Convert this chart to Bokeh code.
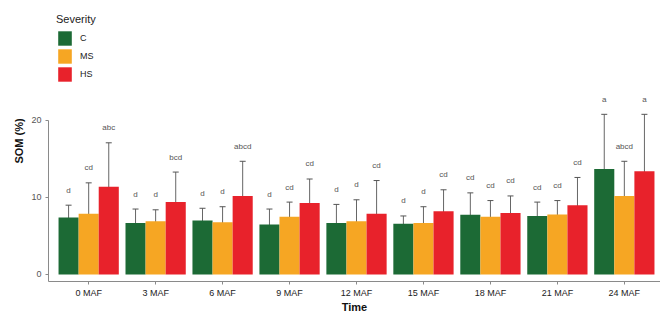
from bokeh.plotting import figure
from bokeh.models import ColumnDataSource, Range1d, Legend, LegendItem, FixedTicker, Whisker
from bokeh.embed import file_html
from bokeh.resources import INLINE
from bokeh.core.properties import value

times = ["0 MAF", "3 MAF", "6 MAF", "9 MAF", "12 MAF", "15 MAF", "18 MAF", "21 MAF", "24 MAF"]
severities = ["C", "MS", "HS"]
colors = ["#1c6a35", "#f6a623", "#e8222b"]

som_C = [7.4, 6.7, 7.0, 6.5, 6.7, 6.6, 7.75, 7.6, 13.7]
som_MS = [7.9, 6.9, 6.8, 7.5, 6.9, 6.7, 7.5, 7.8, 10.2]
som_HS = [11.4, 9.4, 10.2, 9.3, 7.9, 8.2, 8.0, 9.0, 13.4]
sd_C = [1.6, 1.8, 1.6, 2.0, 2.4, 1.0, 2.85, 1.8, 7.1]
sd_MS = [4.0, 1.5, 2.0, 1.9, 2.8, 2.1, 2.1, 1.8, 4.5]
sd_HS = [5.7, 3.9, 4.5, 3.1, 4.3, 2.8, 2.2, 3.6, 7.4]
let_C = ["d", "d", "d", "d", "d", "d", "cd", "cd", "a"]
let_MS = ["cd", "d", "d", "cd", "d", "d", "cd", "cd", "abcd"]
let_HS = ["abc", "bcd", "abcd", "cd", "cd", "cd", "cd", "cd", "a"]

means = [som_C, som_MS, som_HS]
sds = [sd_C, sd_MS, sd_HS]
letters = [let_C, let_MS, let_HS]

FONT = "Liberation Sans"
bar_w = 0.3
offsets = [-0.3, 0.0, 0.3]
Y0, Y1 = -0.91, 35.58

p = figure(width=660, height=315, output_backend="svg", toolbar_location=None,
           x_range=Range1d(0.4, 9.54), y_range=Range1d(Y0, Y1),
           min_border_left=48, min_border_right=0, min_border_top=0, min_border_bottom=34)
p.outline_line_color = None
p.grid.visible = False
p.background_fill_color = "white"

renderers = []
for k, sev in enumerate(severities):
    xs = [i + 1 + offsets[k] for i in range(len(times))]
    m = means[k]
    s = sds[k]
    up = [a + b for a, b in zip(m, s)]
    lo = [a - b for a, b in zip(m, s)]
    src = ColumnDataSource(dict(x=xs, top=m, upper=up, lower=lo, lab=letters[k],
                                ly=[u + 1.95 for u in up]))
    r = p.vbar(x="x", top="top", bottom=0, width=bar_w, source=src,
               fill_color=colors[k], line_color=None)
    renderers.append(r)
    w = Whisker(base="x", upper="upper", lower="lower", source=src,
                line_color="#555555", line_width=1, line_alpha=0.9)
    w.upper_head.size = 6
    w.lower_head.size = 6
    w.upper_head.line_color = "#555555"
    w.lower_head.line_color = "#555555"
    p.add_layout(w)
    p.text(x="x", y="ly", text="lab", source=src, text_align="center",
           text_baseline="middle", text_font=value(FONT), text_font_size="8px",
           text_color="#555555")

# axes
p.xaxis.ticker = FixedTicker(ticks=list(range(1, len(times) + 1)))
p.xaxis.major_label_overrides = {i + 1: t for i, t in enumerate(times)}
p.xaxis.axis_label = "Time"
p.yaxis.axis_label = "SOM (%)"
p.yaxis.ticker = FixedTicker(ticks=[0, 10, 20])
p.yaxis.bounds = (Y0, 20)
for ax in (p.xaxis, p.yaxis):
    ax.axis_line_color = "#8a8a8a"
    ax.axis_line_width = 1
    ax.major_tick_line_color = "#8a8a8a"
    ax.major_tick_out = 3
    ax.major_tick_in = 0
    ax.minor_tick_line_color = None
    ax.major_label_text_font = FONT
    ax.axis_label_text_font = FONT
    ax.axis_label_text_font_style = "bold"
    ax.axis_label_text_color = "#111111"
    ax.axis_label_text_font_size = "11px"
p.xaxis.major_label_text_font_size = "9px"
p.xaxis.major_label_text_color = "#222222"
p.xaxis.major_label_standoff = 3
p.xaxis.axis_label_standoff = 0
p.yaxis.major_label_text_font_size = "9px"
p.yaxis.major_label_text_color = "#555555"
p.yaxis.major_label_standoff = 4
p.yaxis.axis_label_standoff = 3

legend = Legend(items=[LegendItem(label=s, renderers=[r]) for s, r in zip(severities, renderers)],
                title="Severity", location=(8, 198))
legend.title_text_font = FONT
legend.title_text_font_size = "11px"
legend.title_text_color = "#222222"
legend.title_text_font_style = "normal"
legend.label_text_font = FONT
legend.label_text_font_size = "9px"
legend.label_text_color = "#222222"
legend.glyph_width = 17
legend.glyph_height = 18
legend.label_height = 18
legend.spacing = 0
legend.padding = 5
legend.margin = 0
legend.label_standoff = 7
legend.title_standoff = 4
legend.border_line_color = None
legend.background_fill_alpha = 0
p.add_layout(legend)

open("out.html", "w").write(file_html(p, INLINE))
